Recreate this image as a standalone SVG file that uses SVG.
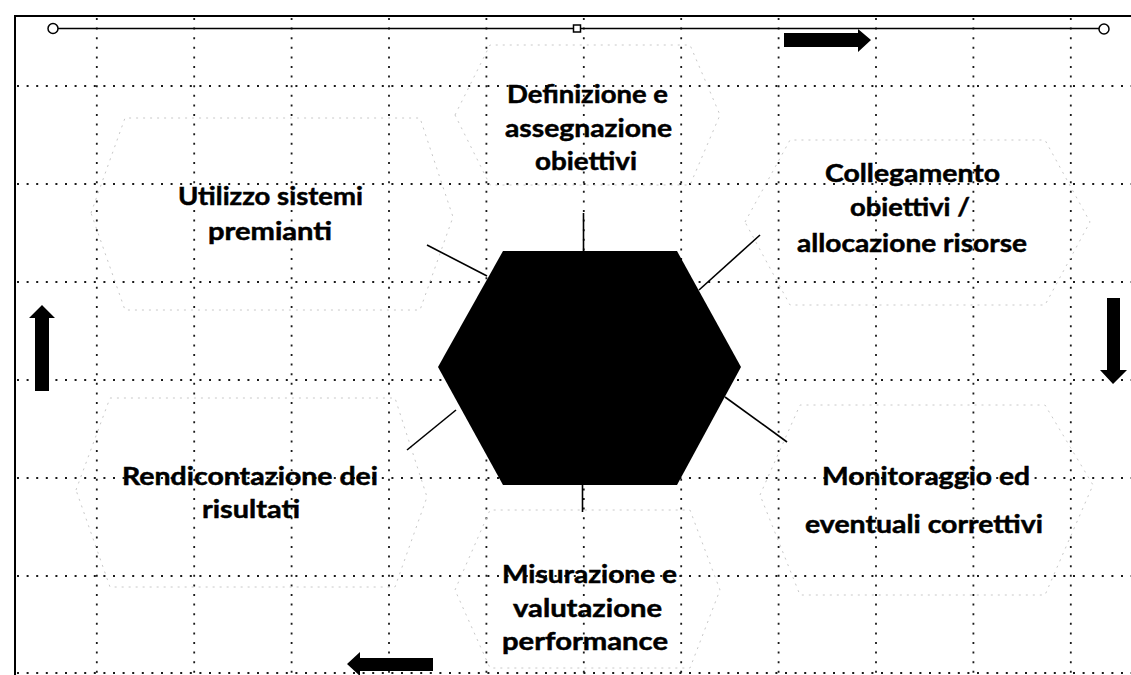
<svg xmlns="http://www.w3.org/2000/svg" width="1131" height="675" viewBox="0 0 1131 675">
<style>
.grid{stroke:#1a1a1a;stroke-width:1.8;stroke-dasharray:2 7.6;fill:none}
.ghost{stroke:#c8c8c8;stroke-width:1;stroke-dasharray:2 5;fill:none}
.lbl{font-family:Lato,"Liberation Sans",sans-serif;font-weight:bold;font-size:25px;fill:#000;stroke:#000;stroke-width:0.5}
.conn{stroke:#000;stroke-width:1.6;fill:none}
.arr{fill:#000}
</style>
<rect x="0" y="0" width="1131" height="675" fill="#fff"/>
<g id="grid">
<path class="grid" d="M96.8 18V673M194.2 18V673M291.6 18V673M389 18V673M486.4 18V673M583.8 18V673M681.2 18V673M778.6 18V673M876 18V673M973.4 18V673M1070.8 18V673"/>
<path class="grid" d="M17 86H1131M17 184H1131M17 282H1131M17 380H1131M17 478H1131M17 576H1131M17 673H1131"/>
</g>
<g id="frame">
<path d="M15 675V16H1131" stroke="#000" stroke-width="2" fill="none"/>
<line x1="58" y1="28.5" x2="1099" y2="28.5" stroke="#000" stroke-width="1.5"/>
<circle cx="53" cy="28.5" r="5" fill="#fff" stroke="#000" stroke-width="1.5"/>
<circle cx="1104" cy="29" r="5" fill="#fff" stroke="#000" stroke-width="1.5"/>
<rect x="573.5" y="25" width="7" height="7" fill="#fff" stroke="#000" stroke-width="1.5"/>
</g>
<g id="ghosts">
<polygon class="ghost" points="455,115 490,45 690,45 720,115 690,185 490,185"/>
<polygon class="ghost" points="745,222 790,140 1045,140 1090,222 1045,305 790,305"/>
<polygon class="ghost" points="91,213 125,118 420,118 453,217 420,310 125,310"/>
<polygon class="ghost" points="76,490 110,398 395,398 427,497 395,587 110,587"/>
<polygon class="ghost" points="760,495 800,405 1045,405 1093,485 1045,595 800,595"/>
<polygon class="ghost" points="455,590 490,510 690,510 720,590 690,668 490,668"/>
</g>
<g id="connectors">
<line class="conn" x1="583.5" y1="213" x2="583.5" y2="251"/>
<line class="conn" x1="427" y1="245" x2="487" y2="276"/>
<line class="conn" x1="760" y1="235" x2="699" y2="290"/>
<line class="conn" x1="725" y1="397" x2="787" y2="442"/>
<line class="conn" x1="456" y1="410" x2="407" y2="450"/>
<line class="conn" x1="582.5" y1="485" x2="582.5" y2="512"/>
</g>
<g id="center">
<polygon points="438,367 503,251 677,251 741,367 677,485 503,485" fill="#000"/>
</g>
<g id="arrows">
<polygon class="arr" points="784,33 858,33 858,29 871,40 858,52 858,47 784,47"/>
<polygon class="arr" points="1107,298 1120,298 1120,370 1127,370 1113,384 1100,370 1107,370"/>
<polygon class="arr" points="42,305 55,318 49,318 49,391 35,391 35,318 29,318"/>
<polygon class="arr" points="347,664 360,652 360,658 433,658 433,671 360,671 360,676"/>
</g>
<g id="n-definizione">
<text class="lbl" x="507" y="103" textLength="161" lengthAdjust="spacingAndGlyphs">Definizione e</text>
<text class="lbl" x="505" y="137" textLength="167" lengthAdjust="spacingAndGlyphs">assegnazione</text>
<text class="lbl" x="535" y="170" textLength="102" lengthAdjust="spacingAndGlyphs">obiettivi</text>
</g>
<g id="n-collegamento">
<text class="lbl" x="825" y="182" textLength="175" lengthAdjust="spacingAndGlyphs">Collegamento</text>
<text class="lbl" x="850" y="216" textLength="120" lengthAdjust="spacingAndGlyphs">obiettivi /</text>
<text class="lbl" x="797" y="252" textLength="230" lengthAdjust="spacingAndGlyphs">allocazione risorse</text>
</g>
<g id="n-utilizzo">
<text class="lbl" x="178" y="205" textLength="185" lengthAdjust="spacingAndGlyphs">Utilizzo sistemi</text>
<text class="lbl" x="208" y="240" textLength="124" lengthAdjust="spacingAndGlyphs">premianti</text>
</g>
<g id="n-rendicontazione">
<text class="lbl" x="122" y="485" textLength="256" lengthAdjust="spacingAndGlyphs">Rendicontazione dei</text>
<text class="lbl" x="202" y="518" textLength="98" lengthAdjust="spacingAndGlyphs">risultati</text>
</g>
<g id="n-monitoraggio">
<text class="lbl" x="822" y="485" textLength="208" lengthAdjust="spacingAndGlyphs">Monitoraggio ed</text>
<text class="lbl" x="805" y="533" textLength="238" lengthAdjust="spacingAndGlyphs">eventuali correttivi</text>
</g>
<g id="n-misurazione">
<text class="lbl" x="502" y="583" textLength="175" lengthAdjust="spacingAndGlyphs">Misurazione e</text>
<text class="lbl" x="513" y="617" textLength="149" lengthAdjust="spacingAndGlyphs">valutazione</text>
<text class="lbl" x="502" y="650" textLength="166" lengthAdjust="spacingAndGlyphs">performance</text>
</g>
</svg>
